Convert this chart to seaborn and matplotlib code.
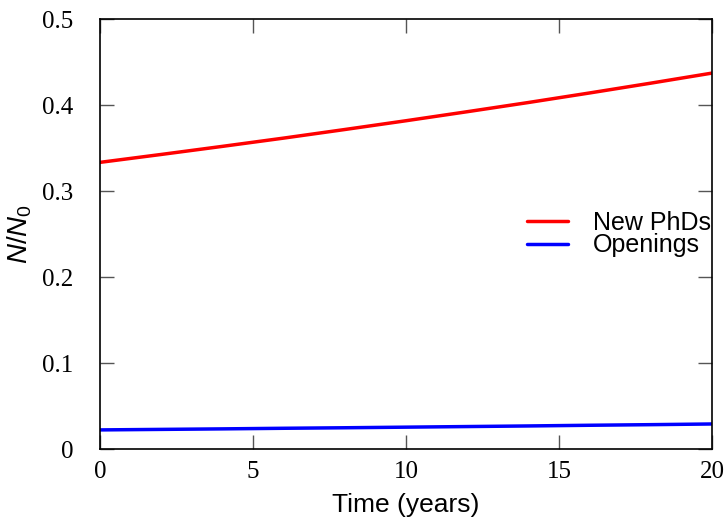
import numpy as np
import pandas as pd
import matplotlib
matplotlib.use("Agg")
import matplotlib.pyplot as plt
import seaborn as sns
from matplotlib.ticker import FuncFormatter

# values
years = [0, 2, 4, 6, 8, 10, 12, 14, 16, 18, 20]
new_phds = [0.3333, 0.3425, 0.3519, 0.3615, 0.3715, 0.3817,
            0.3922, 0.4029, 0.4140, 0.4254, 0.4371]
openings = [0.0222, 0.0228, 0.0234, 0.0241, 0.0247, 0.0254,
            0.0261, 0.0268, 0.0276, 0.0283, 0.0291]
series_names = ["New PhDs", "Openings"]
x_ticks = [0, 5, 10, 15, 20]
y_ticks = [0, 0.1, 0.2, 0.3, 0.4, 0.5]

df = pd.DataFrame({
    "t": years * 2,
    "val": new_phds + openings,
    "series": [series_names[0]] * len(years) + [series_names[1]] * len(years),
})

sns.set_theme(style="white")
plt.rcParams["font.family"] = ["Liberation Sans", "DejaVu Sans"]
plt.rcParams["mathtext.fontset"] = "custom"
plt.rcParams["mathtext.rm"] = "Liberation Sans"
plt.rcParams["mathtext.it"] = "Liberation Sans:italic"
plt.rcParams["text.color"] = "black"
plt.rcParams["axes.labelcolor"] = "black"
plt.rcParams["xtick.labelcolor"] = "black"
plt.rcParams["ytick.labelcolor"] = "black"

fig = plt.figure(figsize=(7.27, 5.2), dpi=100)
ax = fig.add_axes([100 / 727, 1 - 449 / 520, 612 / 727, 430 / 520])

sns.lineplot(data=df, x="t", y="val", hue="series",
             palette={"New PhDs": "#ff0000", "Openings": "#0000ff"},
             linewidth=2.5, ax=ax)

ax.set_xlim(0, 20)
ax.set_ylim(0, 0.5)
ax.set_xticks(x_ticks)
ax.set_yticks(y_ticks)
ax.yaxis.set_major_formatter(FuncFormatter(lambda v, p: "0" if v == 0 else f"{v:.1f}"))

for s in ax.spines.values():
    s.set_visible(True)
    s.set_color("black")
    s.set_linewidth(1.2)

ax.tick_params(which="both", direction="in", length=10, width=1, color="#555555",
               labelcolor="black", top=True, right=True, bottom=True, left=True)
ax.tick_params(axis="y", pad=19)
ax.tick_params(axis="x", pad=9)
for lab in ax.get_xticklabels() + ax.get_yticklabels():
    lab.set_fontfamily("Liberation Serif")
    lab.set_fontsize(18)

ax.set_xlabel("Time (years)", fontsize=19, labelpad=7, color="black")
ax.set_ylabel(r"$N/N_0$", fontsize=20, labelpad=6, color="black")

leg = ax.legend(loc="center right", bbox_to_anchor=(1.015, 0.5), frameon=False,
                fontsize=18, handlelength=1.65, handletextpad=1.0, labelspacing=-0.05,
                borderaxespad=0.0)
for line in leg.get_lines():
    line.set_linewidth(2.5)
for txt in leg.get_texts():
    txt.set_color("black")

fig.savefig("out.png", dpi=100)
